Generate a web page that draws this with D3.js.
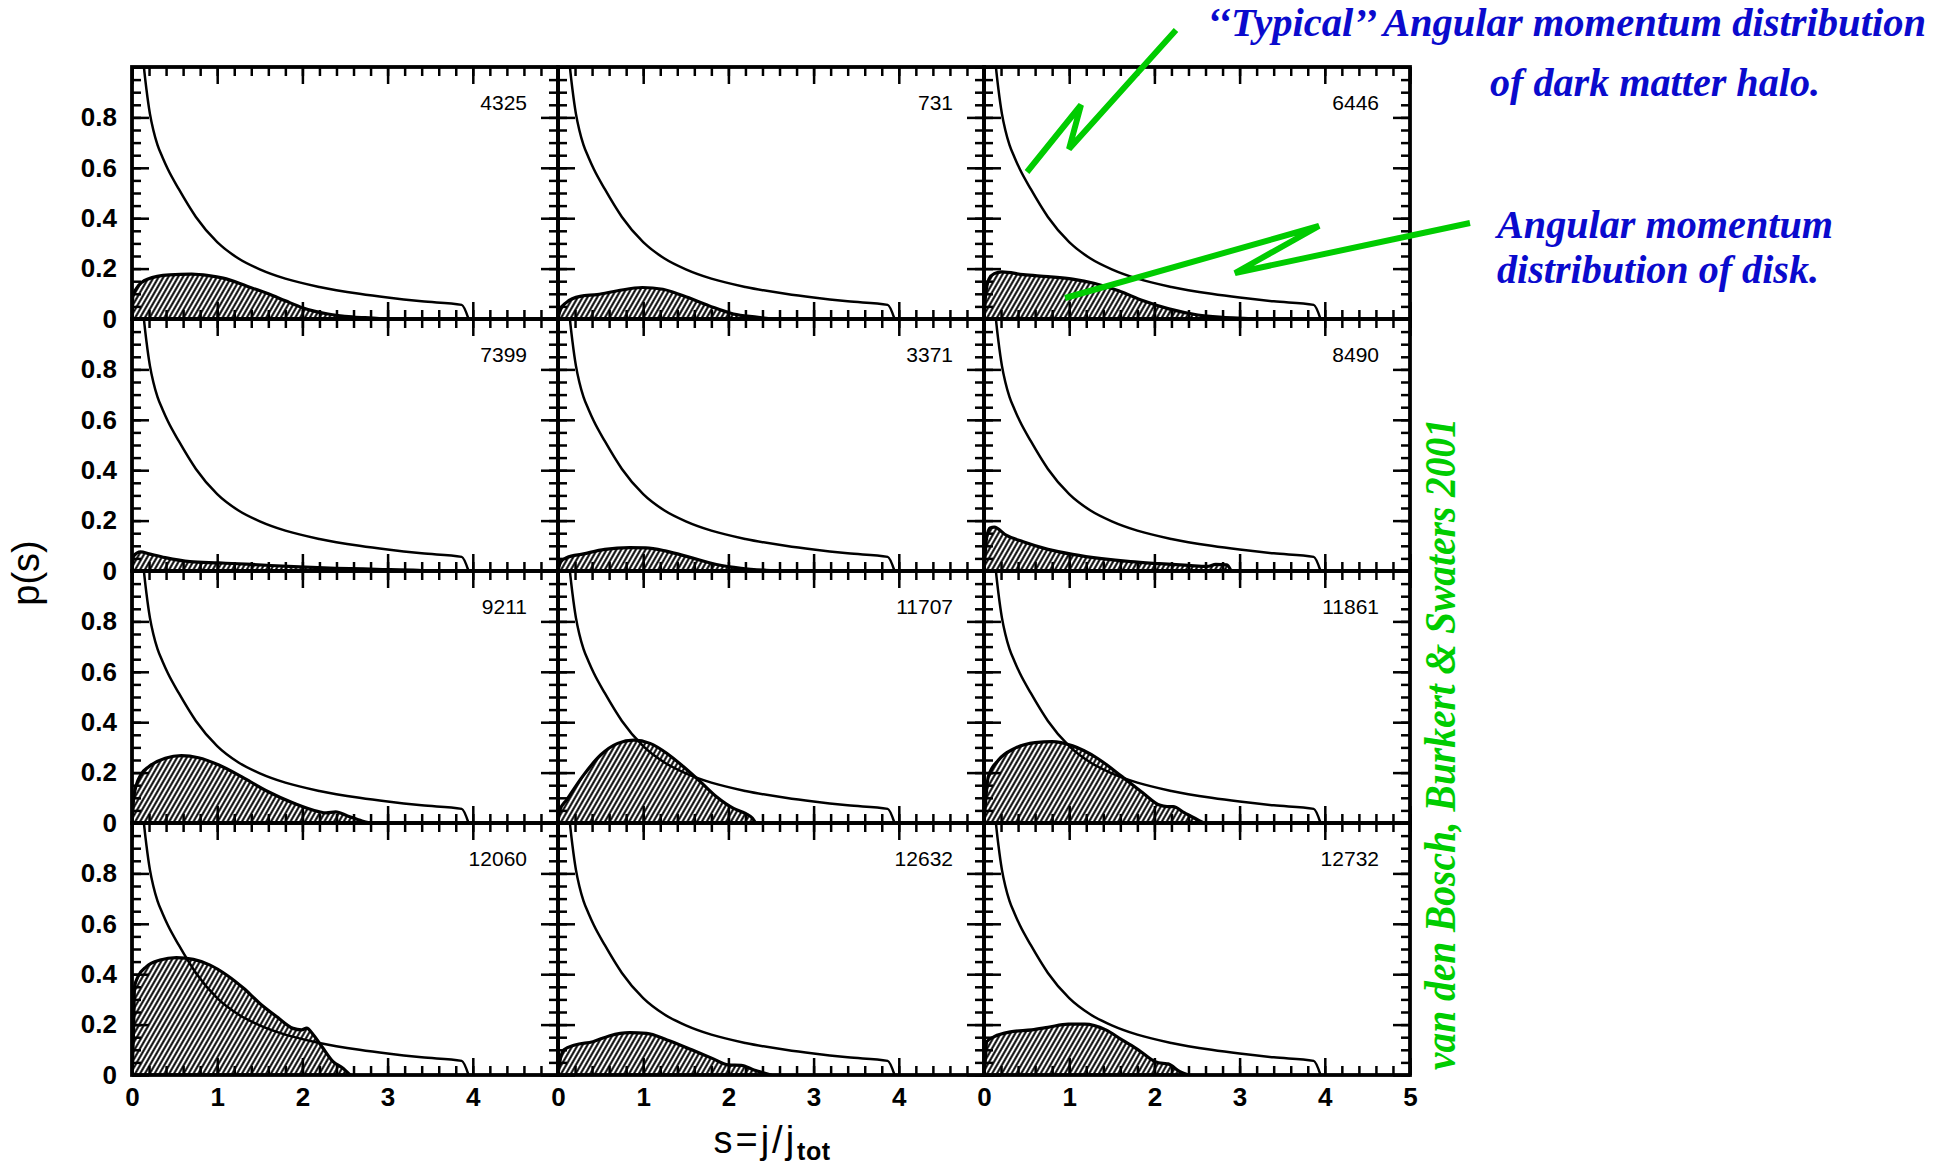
<!DOCTYPE html>
<html><head><meta charset="utf-8">
<script src="https://cdn.jsdelivr.net/npm/d3@7"></script>
<style>body{margin:0;background:#fff} svg{display:block}</style>
</head><body><svg id="c" width="1942" height="1169"></svg>
<script>
// ---------------- data ----------------
const panelIds = ["4325","731","6446","7399","3371","8490","9211","11707","11861","12060","12632","12732"];

// "typical" halo angular momentum distribution (same in every panel)
const haloS = [0.10,0.12,0.14,0.17,0.21,0.25,0.30,0.36,0.42,0.55,0.75,1.00,1.25,1.50,1.80,2.20,2.67,3.00,3.40,3.87,3.95];
const haloP = [1.20,1.08,1.00,0.91,0.815,0.75,0.69,0.64,0.595,0.515,0.405,0.305,0.24,0.197,0.16,0.127,0.10,0.085,0.07,0.056,0.0];

// disk angular momentum distributions [s, p(s)]
const disk4325  = [[0,0],[0.01,0.09],[0.06,0.125],[0.18,0.158],[0.44,0.175],[0.7,0.178],[0.9,0.172],[1.07,0.162],[1.35,0.13],[1.6,0.1],[1.8,0.072],[2.0,0.045],[2.3,0.02],[2.6,0.008],[2.9,0.002],[2.95,0]];
const disk731   = [[0,0],[0.03,0.04],[0.1,0.066],[0.26,0.09],[0.46,0.097],[0.7,0.112],[0.99,0.125],[1.23,0.118],[1.47,0.092],[1.77,0.053],[2.06,0.02],[2.35,0.007],[2.5,0]];
const disk6446  = [[0,0],[0.02,0.1],[0.06,0.16],[0.12,0.18],[0.21,0.187],[0.46,0.176],[0.75,0.168],[1.04,0.158],[1.29,0.142],[1.58,0.112],[1.87,0.072],[2.17,0.04],[2.51,0.016],[2.8,0.007],[3.1,0.002],[3.2,0]];
const disk7399  = [[0,0],[0.02,0.06],[0.1,0.076],[0.2,0.068],[0.39,0.053],[0.68,0.037],[1.02,0.032],[1.41,0.026],[1.9,0.017],[2.39,0.011],[2.87,0.007],[3.36,0.003],[3.45,0]];
const disk3371  = [[0,0],[0.03,0.035],[0.1,0.053],[0.3,0.068],[0.55,0.086],[0.84,0.093],[1.03,0.092],[1.27,0.079],[1.56,0.053],[1.86,0.026],[2.15,0.011],[2.44,0.003],[2.6,0]];
const disk8490  = [[0,0],[0.03,0.13],[0.07,0.171],[0.12,0.174],[0.26,0.142],[0.46,0.116],[0.75,0.086],[1.04,0.066],[1.38,0.049],[1.72,0.037],[2.06,0.029],[2.4,0.022],[2.62,0.018],[2.72,0.026],[2.85,0.024],[2.9,0]];
const disk9211  = [[0,0],[0.02,0.1],[0.05,0.15],[0.1,0.19],[0.2,0.224],[0.39,0.257],[0.58,0.267],[0.78,0.259],[1.02,0.23],[1.32,0.177],[1.6,0.124],[1.9,0.078],[2.19,0.045],[2.28,0.04],[2.39,0.044],[2.53,0.028],[2.7,0.008],[2.8,0]];
const disk11707 = [[0,0],[0.02,0.05],[0.1,0.091],[0.3,0.19],[0.5,0.27],[0.7,0.316],[0.89,0.329],[1.08,0.316],[1.28,0.276],[1.47,0.224],[1.67,0.164],[1.86,0.104],[2.06,0.058],[2.2,0.038],[2.28,0.02],[2.32,0]];
const disk11861 = [[0,0],[0.03,0.13],[0.05,0.184],[0.17,0.25],[0.36,0.296],[0.6,0.319],[0.8,0.323],[1.04,0.306],[1.33,0.257],[1.62,0.184],[1.87,0.118],[2.06,0.071],[2.15,0.065],[2.22,0.065],[2.35,0.041],[2.55,0.005],[2.58,0]];
const disk12060 = [[0,0],[0.02,0.2],[0.03,0.35],[0.07,0.39],[0.17,0.43],[0.33,0.456],[0.52,0.466],[0.72,0.459],[0.91,0.437],[1.11,0.397],[1.31,0.344],[1.5,0.284],[1.7,0.231],[1.89,0.185],[1.99,0.179],[2.05,0.186],[2.13,0.159],[2.23,0.112],[2.36,0.053],[2.48,0.026],[2.56,0]];
const disk12632 = [[0,0],[0.02,0.05],[0.07,0.1],[0.2,0.119],[0.41,0.132],[0.6,0.155],[0.84,0.168],[1.04,0.165],[1.28,0.139],[1.57,0.1],[1.81,0.066],[2.0,0.04],[2.15,0.038],[2.3,0.02],[2.5,0]];
const disk12732 = [[0,0],[0.02,0.08],[0.03,0.132],[0.12,0.152],[0.31,0.171],[0.56,0.179],[0.75,0.189],[0.99,0.202],[1.18,0.202],[1.43,0.179],[1.62,0.139],[1.81,0.1],[2.01,0.053],[2.1,0.046],[2.16,0.044],[2.3,0.013],[2.4,0]];
const disks = [disk4325,disk731,disk6446,disk7399,disk3371,disk8490,disk9211,disk11707,disk11861,disk12060,disk12632,disk12732];

const xMajor = [0,1,2,3,4,5];
const xMinor = d3.range(0,26).map(i=>i/5);
const yMajor = [0,0.2,0.4,0.6,0.8,1];
const yMinor = d3.range(0,21).map(i=>i/20);
const yLabelVals = [0,0.2,0.4,0.6,0.8];
const xLabelVals = [0,1,2,3,4];
const xLabelValsLast = [0,1,2,3,4,5];

const annoTop = ["\u2018\u2018Typical\u2019\u2019 Angular momentum distribution","of dark matter halo."];
const annoDisk = ["Angular momentum","distribution of disk."];
const credit = "van den Bosch, Burkert & Swaters 2001";

// ---------------- layout ----------------
const mLeft = 132, mTop = 67, pw = 426, ph = 252, ncol = 3;
const svg = d3.select("#c");
const x = d3.scaleLinear().domain([0,5]).range([0,pw]);
const y = d3.scaleLinear().domain([0,1]).range([ph,0]);

const defs = svg.append("defs");
const pat = defs.append("pattern").attr("id","hatch").attr("patternUnits","userSpaceOnUse")
  .attr("width",4.2).attr("height",10).attr("patternTransform","rotate(30)");
pat.append("rect").attr("width",4.2).attr("height",10).attr("fill","#fff");
pat.append("line").attr("x1",2.1).attr("x2",2.1).attr("y1",0).attr("y2",10).attr("stroke","#000").attr("stroke-width",2.0);
defs.append("clipPath").attr("id","pclip").append("rect").attr("width",pw).attr("height",ph);

const area = d3.area().x(d=>x(d[0])).y0(y(0)).y1(d=>y(d[1])).curve(d3.curveMonotoneX);
const line = d3.line().x(d=>x(d[0])).y(d=>y(d[1])).curve(d3.curveMonotoneX);
const halo = haloS.map((s,i)=>[s,haloP[i]]);

const tickFont = "bold 26px 'Liberation Sans', Arial, sans-serif";

function styleAxis(g){
  g.select(".domain").remove();
  g.selectAll(".tick line").attr("stroke","#000").attr("stroke-width",2.5);
}

panelIds.forEach((id,i)=>{
  const r = Math.floor(i/ncol), c = i%ncol;
  const g = svg.append("g").attr("transform",`translate(${mLeft+c*pw},${mTop+r*ph})`);
  const inner = g.append("g").attr("clip-path","url(#pclip)");
  inner.append("path").datum(disks[i]).attr("d",area)
    .attr("fill","url(#hatch)").attr("stroke","#000").attr("stroke-width",3.2).attr("stroke-linejoin","round");
  inner.append("path").datum(halo).attr("d",line)
    .attr("fill","none").attr("stroke","#000").attr("stroke-width",2.5);

  const mk = (axisFn, scale, vals, size, tr) => g.append("g").attr("transform",tr)
      .call(axisFn(scale).tickValues(vals).tickSize(-size).tickFormat("")).call(styleAxis);
  mk(d3.axisBottom, x, xMinor, 9, `translate(0,${ph})`);
  mk(d3.axisBottom, x, xMajor, 17, `translate(0,${ph})`);
  mk(d3.axisTop, x, xMinor, 9, `translate(0,0)`);
  mk(d3.axisTop, x, xMajor, 17, `translate(0,0)`);
  mk(d3.axisLeft, y, yMinor, 9, `translate(0,0)`);
  mk(d3.axisLeft, y, yMajor, 17, `translate(0,0)`);
  mk(d3.axisRight, y, yMinor, 9, `translate(${pw},0)`);
  mk(d3.axisRight, y, yMajor, 17, `translate(${pw},0)`);

  g.append("rect").attr("width",pw).attr("height",ph).attr("fill","none")
    .attr("stroke","#000").attr("stroke-width",3.8);

  g.append("text").attr("x",pw-31).attr("y",43).attr("text-anchor","end")
    .style("font","21px 'Liberation Sans', Arial, sans-serif").text(id);

  if (c===0){
    const ya = g.append("g").call(d3.axisLeft(y).tickValues(yLabelVals).tickSize(0).tickPadding(15)
      .tickFormat(d=>d===0?"0":d3.format(".1f")(d)));
    ya.select(".domain").remove();
    ya.selectAll("text").style("font",tickFont).attr("fill","#000");
  }
  if (r===3){
    const xa = g.append("g").attr("transform",`translate(0,${ph})`)
      .call(d3.axisBottom(x).tickValues(c===ncol-1?xLabelValsLast:xLabelVals).tickSize(0).tickPadding(13).tickFormat(d3.format("d")));
    xa.select(".domain").remove();
    xa.selectAll("text").style("font",tickFont).attr("fill","#000");
  }
});

// axis titles
svg.append("text").attr("transform","translate(39,573) rotate(-90)").attr("text-anchor","middle")
  .style("font","38px 'Liberation Sans', Arial, sans-serif").text("p(s)");
const xt = svg.append("text").attr("x",772).attr("y",1153).attr("text-anchor","middle")
  .style("font","38px 'Liberation Sans', Arial, sans-serif").style("letter-spacing","3px");
xt.append("tspan").text("s=j/j");
xt.append("tspan").attr("dy",7).style("font","bold 25px 'Liberation Sans', Arial, sans-serif").style("letter-spacing","0.5px").text("tot");

// annotations
const blue = "#0a0acd", green = "#00cc00";
const serifBI = "italic bold 40px 'Liberation Serif', 'Times New Roman', serif";
const bt = [[annoTop[0],1207,36,719],[annoTop[1],1490,96,330],[annoDisk[0],1497,238,336],[annoDisk[1],1497,283,322]];
bt.forEach(([t,x0,y0,len])=>{
  svg.append("text").attr("x",x0).attr("y",y0).attr("fill",blue).style("font",serifBI)
    .attr("textLength",len).attr("lengthAdjust","spacingAndGlyphs").text(t);
});
svg.append("text").attr("transform","translate(1455,1070) rotate(-90)").attr("fill",green)
  .style("font","italic bold 45px 'Liberation Serif', 'Times New Roman', serif")
  .attr("textLength",652).attr("lengthAdjust","spacingAndGlyphs").text(credit);

const bolt1 = [[1176,30],[1069,149],[1081,105],[1027,172]];
const bolt2 = [[1470,223],[1235,273],[1319,226],[1065,298]];
[bolt1,bolt2].forEach(b=>{
  svg.append("path").attr("d",d3.line()(b)).attr("fill","none").attr("stroke",green)
    .attr("stroke-width",6).attr("stroke-linejoin","miter");
});
</script>
</body></html>
